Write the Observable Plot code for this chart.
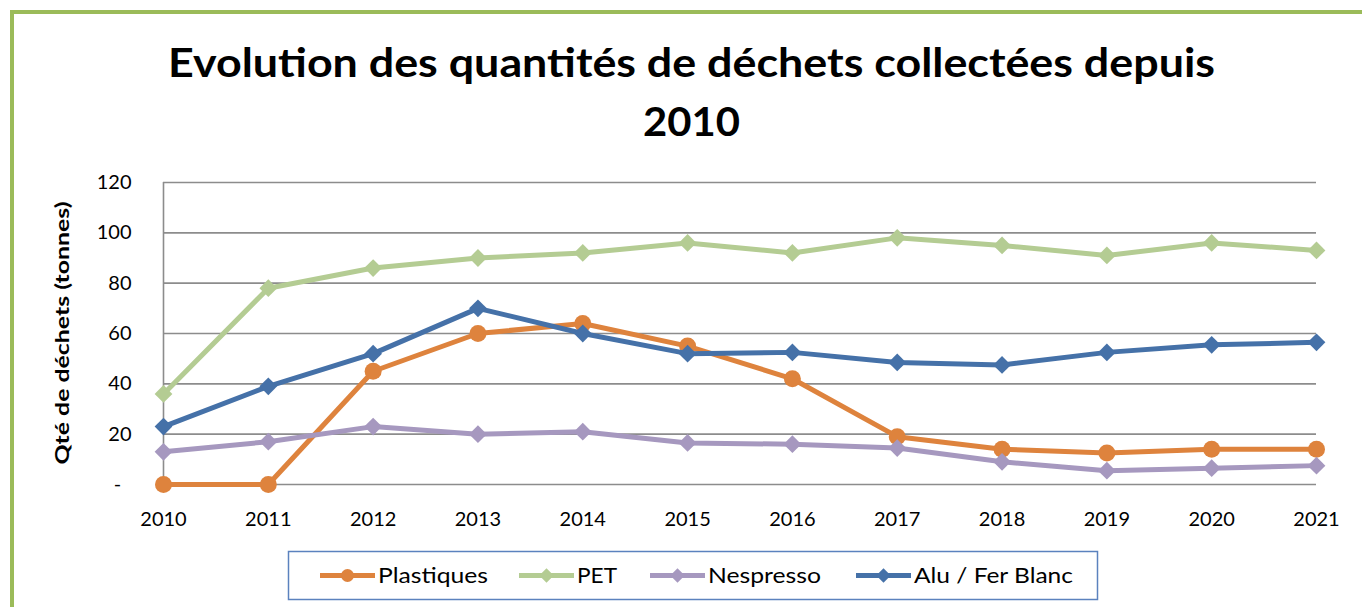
<!DOCTYPE html>
<html>
<head>
<meta charset="utf-8">
<script src="https://cdn.jsdelivr.net/npm/d3@7"></script>
<script src="https://cdn.jsdelivr.net/npm/@observablehq/plot@0.6"></script>
<style>
  html, body { margin: 0; padding: 0; background: #fff; overflow: hidden; }
  #wrap { position: relative; width: 1362px; height: 607px; font-family: Lato, "Open Sans", sans-serif; }
  #title { position: absolute; left: 0; top: 0; }
  #chart { position: absolute; left: 0; top: 150px; }
  #legend { position: absolute; left: 0; top: 534px; }
  #frame { position: absolute; left: 10px; top: 10px; width: 1400px; height: 700px;
           border-left: 4px solid #9BBB59; border-top: 4px solid #9BBB59; z-index: 10; pointer-events: none; }
</style>
</head>
<body>
<div id="wrap">
  <svg id="title" width="1362" height="150"></svg>
  <div id="chart"></div>
  <svg id="legend" width="1362" height="73"></svg>
  <div id="frame"></div>
</div>
<script>
// ---- Data ----
const titleLines = ["Evolution des quantités de déchets collectées depuis", "2010"];
const yAxisLabel = "Qté de déchets (tonnes)";
const years = [2010, 2011, 2012, 2013, 2014, 2015, 2016, 2017, 2018, 2019, 2020, 2021];
const yTicks = [0, 20, 40, 60, 80, 100, 120];
const seriesNames = ["Plastiques", "PET", "Nespresso", "Alu / Fer Blanc"];
const plastiques = [0, 0, 45, 60, 64, 55, 42, 19, 14, 12.5, 14, 14];
const pet = [36, 78, 86, 90, 92, 96, 92, 98, 95, 91, 96, 93];
const nespresso = [13, 17, 23, 20, 21, 16.5, 16, 14.5, 9, 5.5, 6.5, 7.5];
const alu = [23, 39, 52, 70, 60, 52, 52.5, 48.5, 47.5, 52.5, 55.5, 56.5];

// ---- Styles ----
const seriesValues = [plastiques, pet, nespresso, alu];
const colors = ["#DE833D", "#B4CC93", "#A698BF", "#4571A8"];
const symbols = ["circle", "diamond2", "diamond2", "diamond2"];
const radii = [8.5, 8, 8, 8];

const rows = [];
seriesNames.forEach((name, si) => {
  years.forEach((yr, i) => rows.push({ name, year: yr, value: seriesValues[si][i] }));
});

// ---- Title ----
const tsvg = d3.select("#title");
tsvg.append("text").attr("x", 691.5).attr("y", 77).attr("text-anchor", "middle")
  .attr("font-family", "Lato").attr("font-weight", 700).attr("font-size", 41)
  .attr("textLength", 1047).attr("lengthAdjust", "spacingAndGlyphs").text(titleLines[0]);
tsvg.append("text").attr("x", 691.5).attr("y", 136).attr("text-anchor", "middle")
  .attr("font-family", "Lato").attr("font-weight", 700).attr("font-size", 41)
  .attr("textLength", 97).attr("lengthAdjust", "spacingAndGlyphs").text(titleLines[1]);

// ---- Plot ----
const marks = [
  Plot.gridY(yTicks, { stroke: "#8c8c8c", strokeOpacity: 1, strokeWidth: 1.6 }),
  Plot.ruleX([years[0]], { stroke: "#8c8c8c", strokeWidth: 1.6 }),
  Plot.axisX({ ticks: years, tickFormat: d => String(d), tickSize: 0, tickPadding: 27 }),
  Plot.axisY({ ticks: yTicks, tickFormat: d => d === 0 ? "-\u00a0\u00a0" : String(d), tickSize: 0, tickPadding: 32, label: null })
];
seriesNames.forEach((name, si) => {
  const d = rows.filter(r => r.name === name);
  marks.push(Plot.line(d, { x: "year", y: "value", stroke: colors[si], strokeWidth: 5, strokeLinejoin: "round" }));
  marks.push(Plot.dot(d, { x: "year", y: "value", fill: colors[si], stroke: "none", symbol: symbols[si], r: radii[si] }));
});

const chart = Plot.plot({
  width: 1362,
  height: 384,
  marginTop: 32,
  marginBottom: 50,
  marginLeft: 163,
  marginRight: 46,
  x: { type: "linear", domain: [years[0], years[years.length - 1]], label: null },
  y: { domain: [0, 120], label: null },
  style: { fontFamily: "Lato", fontSize: "20px", color: "#000", background: "transparent", overflow: "visible" },
  marks
});
document.getElementById("chart").appendChild(chart);

d3.select(chart).append("text")
  .attr("transform", "translate(69,183) rotate(-90)")
  .attr("text-anchor", "middle")
  .attr("font-family", "Lato").attr("font-weight", 700).attr("font-size", 19)
  .attr("fill", "#000")
  .attr("textLength", 263).attr("lengthAdjust", "spacingAndGlyphs")
  .text(yAxisLabel);

// ---- Legend ----
const lsvg = d3.select("#legend");
lsvg.append("rect").attr("x", 288.5).attr("y", 17.5).attr("width", 809).attr("height", 48)
  .attr("fill", "#fff").attr("stroke", "#5B82BE").attr("stroke-width", 1.5);
const legendLineX = [320, 519, 650, 856];
const legendTextW = [110, 40, 113, 159];
const legendY = 41.5;
const symGen = {
  circle: d3.symbol(d3.symbolCircle, Math.PI * 6.5 * 6.5),
  diamond2: d3.symbol(d3.symbolDiamond2, Math.PI * 6.5 * 6.5)
};
seriesNames.forEach((name, si) => {
  const x0 = legendLineX[si];
  lsvg.append("line").attr("x1", x0).attr("x2", x0 + 55).attr("y1", legendY).attr("y2", legendY)
    .attr("stroke", colors[si]).attr("stroke-width", 5);
  lsvg.append("path").attr("d", symGen[symbols[si]]()).attr("transform", `translate(${x0 + 27.5},${legendY})`)
    .attr("fill", colors[si]);
  lsvg.append("text").attr("x", x0 + 58).attr("y", legendY + 7).attr("font-family", "Lato").attr("font-size", 21)
    .attr("textLength", legendTextW[si]).attr("lengthAdjust", "spacingAndGlyphs").text(name);
});
</script>
</body>
</html>
